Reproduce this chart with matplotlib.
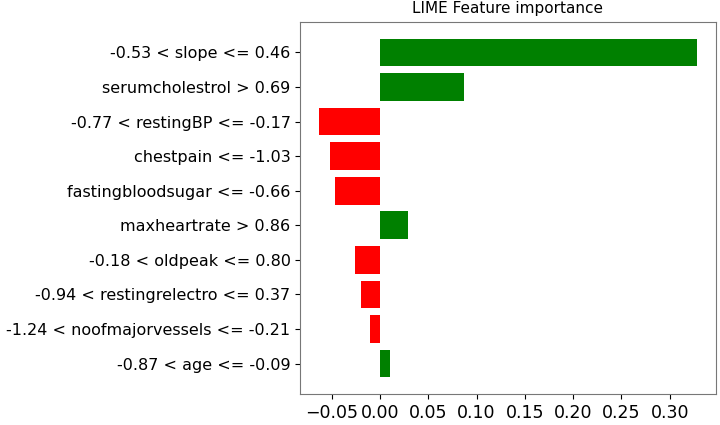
import matplotlib.pyplot as plt
import numpy as np

LABELS = ['-0.53 < slope <= 0.46',
          'serumcholestrol > 0.69',
          '-0.77 < restingBP <= -0.17',
          'chestpain <= -1.03',
          'fastingbloodsugar <= -0.66',
          'maxheartrate > 0.86',
          '-0.18 < oldpeak <= 0.80',
          '-0.94 < restingrelectro <= 0.37',
          '-1.24 < noofmajorvessels <= -0.21',
          '-0.87 < age <= -0.09']
WEIGHTS = [0.328, 0.087, -0.063, -0.052, -0.047, 0.029, -0.026, -0.020, -0.010, 0.010]
XTICKS = [-0.05, 0.00, 0.05, 0.10, 0.15, 0.20, 0.25, 0.30]


# lime style: bottom-up order, green positive, red negative
vals = WEIGHTS[::-1]
names = LABELS[::-1]
colors = ['green' if v > 0 else 'red' for v in vals]
pos = list(range(len(vals)))

fig, ax = plt.subplots(figsize=(7.2, 4.25), dpi=100)
ax.barh(pos, vals, align='center', color=colors, height=0.8)
ax.set_yticks(pos)
ax.set_yticklabels(names, fontsize=11.5)
ax.set_xticks(XTICKS)
ax.set_xticklabels([f'{t:.2f}'.replace('-', '\u2212') for t in XTICKS])
ax.tick_params(axis='x', labelsize=12.5)
ax.set_title('LIME Feature importance', fontsize=11)
for s in ax.spines.values():
    s.set_color('#777777')

fig.subplots_adjust(left=0.417, right=0.994, top=0.949, bottom=0.072)
plt.savefig('out.png', dpi=100)
